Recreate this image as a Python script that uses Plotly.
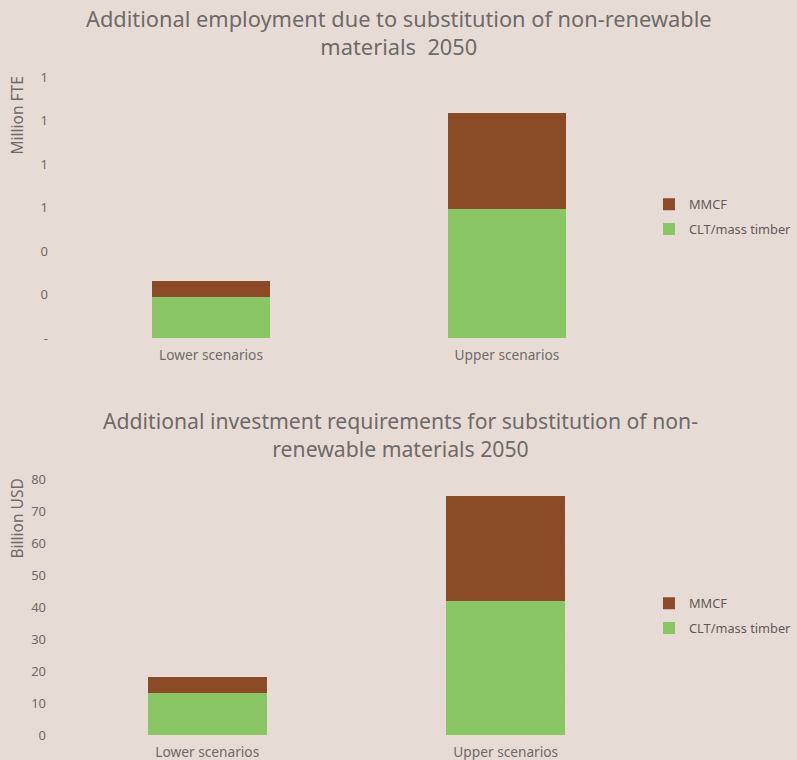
import plotly.graph_objects as go

categories = ["Lower scenarios", "Upper scenarios"]

# Employment (Million FTE)
emp_clt = [0.188, 0.593]
emp_mmcf = [0.074, 0.441]
emp_tickvals = [0, 0.2, 0.4, 0.6, 0.8, 1.0, 1.2]
emp_ticktext = ["-", "0", "0", "1", "1", "1", "1"]

# Investment (Billion USD)
inv_clt = [13.1, 41.9]
inv_mmcf = [5.0, 32.8]
inv_tickvals = [0, 10, 20, 30, 40, 50, 60, 70, 80]

BG = "#E7DCD5"
GREEN = "#8BC664"
BROWN = "#8B4B26"
TXT = "#6E6A69"
GRID = "#E0DBD8"
FONT = "Noto Sans"

fig = go.Figure()
fig.add_trace(go.Bar(x=categories, y=emp_clt, name="CLT/mass timber", marker_color=GREEN,
                     xaxis="x", yaxis="y", legend="legend", legendgroup="clt1", legendrank=2,
                     marker_line_width=0))
fig.add_trace(go.Bar(x=categories, y=emp_mmcf, name="MMCF", marker_color=BROWN,
                     xaxis="x", yaxis="y", legend="legend", legendgroup="mmcf1", legendrank=1,
                     marker_line_width=0))
fig.add_trace(go.Bar(x=categories, y=inv_clt, name="CLT/mass timber", marker_color=GREEN,
                     xaxis="x2", yaxis="y2", legend="legend2", legendgroup="clt2", legendrank=2,
                     marker_line_width=0))
fig.add_trace(go.Bar(x=categories, y=inv_mmcf, name="MMCF", marker_color=BROWN,
                     xaxis="x2", yaxis="y2", legend="legend2", legendgroup="mmcf2", legendrank=1,
                     marker_line_width=0))

W, H = 797, 760
def px(y):
    return 1 - y / H

tick_font = dict(size=13, color=TXT, family=FONT)
xtick_font = dict(size=13.7, color=TXT, family=FONT)
axis_common = dict(showline=False, zeroline=False, ticks="", automargin=False)
legend_common = dict(xanchor="right", yanchor="middle", traceorder="grouped",
                     bgcolor="rgba(0,0,0,0)", font=dict(size=12.8, color="#5F5B5A", family=FONT),
                     itemwidth=30, tracegroupgap=5)

fig.update_layout(
    template="none",
    width=W, height=H,
    paper_bgcolor=BG, plot_bgcolor=BG,
    margin=dict(l=0, r=0, t=0, b=0, pad=0),
    barmode="stack", bargap=0.6,
    font=dict(family=FONT, color=TXT),
    xaxis=dict(domain=[63 / W, 655 / W], anchor="y", showgrid=False, tickfont=xtick_font,
               ticklabelstandoff=7, **axis_common),
    yaxis=dict(domain=[px(338), px(77)], anchor="x", range=[0, 1.2], tickvals=emp_tickvals,
               ticktext=emp_ticktext, showgrid=True, gridcolor=GRID, gridwidth=1,
               tickfont=tick_font, ticklabelstandoff=14, **axis_common),
    xaxis2=dict(domain=[58 / W, 655 / W], anchor="y2", showgrid=False, tickfont=xtick_font,
                ticklabelstandoff=7, **axis_common),
    yaxis2=dict(domain=[px(735), px(479)], anchor="x2", range=[0, 80], tickvals=inv_tickvals,
                showgrid=True, gridcolor=GRID, gridwidth=1,
                tickfont=tick_font, ticklabelstandoff=11, **axis_common),
    legend=dict(x=1, y=px(217), **legend_common),
    legend2=dict(x=1, y=px(616), **legend_common),
    showlegend=True,
    annotations=[
        dict(text="Additional employment due to substitution of non-renewable<br>materials  2050",
             x=399 / W, y=px(33), xref="paper", yref="paper", xanchor="center", yanchor="middle",
             showarrow=False, font=dict(size=21.8, color=TXT, family=FONT)),
        dict(text="Additional investment requirements for substitution of non-<br>renewable materials 2050",
             x=400 / W, y=px(434), xref="paper", yref="paper", xanchor="center", yanchor="middle",
             showarrow=False, font=dict(size=21.2, color=TXT, family=FONT)),
        dict(text="Million FTE", textangle=-90, x=16.5 / W, y=px(116), xref="paper", yref="paper",
             xanchor="center", yanchor="middle", showarrow=False,
             font=dict(size=15.5, color=TXT, family=FONT)),
        dict(text="Billion USD", textangle=-90, x=16.5 / W, y=px(519), xref="paper", yref="paper",
             xanchor="center", yanchor="middle", showarrow=False,
             font=dict(size=15.5, color=TXT, family=FONT)),
    ],
)

fig.write_html("out.html", config={"displayModeBar": False},
               post_script="document.body.style.margin='0';document.body.style.overflow='hidden';")
